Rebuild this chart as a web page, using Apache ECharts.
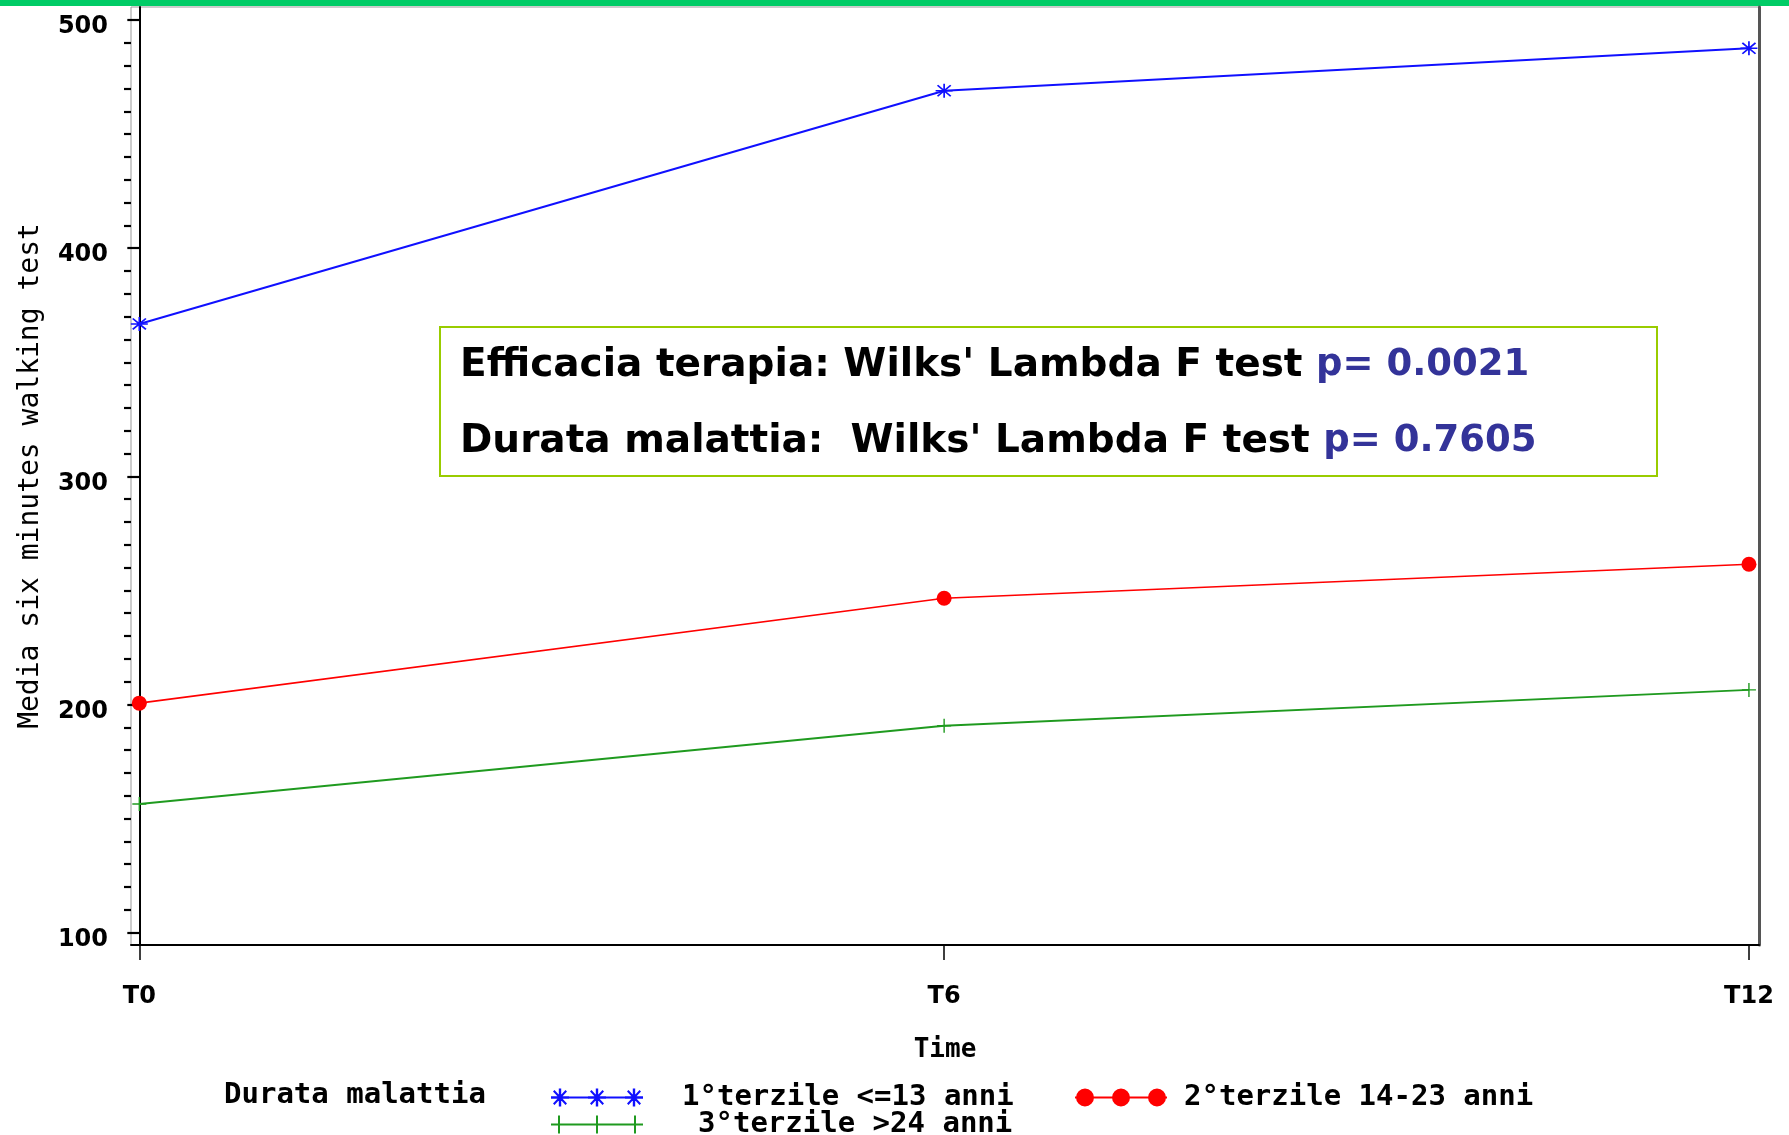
<!DOCTYPE html>
<html>
<head>
<meta charset="utf-8">
<script src="https://cdn.jsdelivr.net/npm/echarts@6/dist/echarts.min.js"></script>
<style>
  html, body { margin: 0; padding: 0; background: #fff; }
  #chart { width: 1789px; height: 1135px; }
</style>
</head>
<body>
<div id="chart"></div>
<script>
// data
const categories = ['T0', 'T6', 'T12'];
const times = [0, 6, 12];
const terzile1 = [366.8, 469.0, 487.6];
const terzile2 = [200.6, 246.6, 261.5];
const terzile3 = [156.4, 190.7, 206.4];
const seriesNames = ['1°terzile <=13 anni', '2°terzile 14-23 anni', '3°terzile >24 anni'];
const yMajor = [100, 200, 300, 400, 500];
const yMinor = [];
for (let v = 110; v < 500; v += 10) { if (v % 100 !== 0) yMinor.push(v); }

const starPath = 'path://M9 0L11 0L11 20L9 20Z M0 9L20 9L20 11L0 11Z M1.5 3L3 1.5L18.5 17L17 18.5Z M17 1.5L18.5 3L3 18.5L1.5 17Z';
const plusPath = 'path://M9 0L11 0L11 20L9 20Z M0 9L20 9L20 11L0 11Z';

// legend icons: a line with three markers (92 x 20)
function star(cx) {
    return 'M' + (cx - 1.2) + ' 1L' + (cx + 1.2) + ' 1L' + (cx + 1.2) + ' 19L' + (cx - 1.2) + ' 19Z' +
        'M' + (cx - 9) + ' 8.8L' + (cx + 9) + ' 8.8L' + (cx + 9) + ' 11.2L' + (cx - 9) + ' 11.2Z' +
        'M' + (cx - 7) + ' 4L' + (cx - 5.5) + ' 2.5L' + (cx + 7) + ' 16L' + (cx + 5.5) + ' 17.5Z' +
        'M' + (cx + 5.5) + ' 2.5L' + (cx + 7) + ' 4L' + (cx - 5.5) + ' 17.5L' + (cx - 7) + ' 16Z';
}
function dot(cx) {
    return 'M' + (cx - 9) + ' 10A9 9 0 1 1 ' + (cx + 9) + ' 10A9 9 0 1 1 ' + (cx - 9) + ' 10Z';
}
function bar(cx) {
    return 'M' + (cx - 1) + ' 1L' + (cx + 1) + ' 1L' + (cx + 1) + ' 19L' + (cx - 1) + ' 19Z';
}
const lineBase = 'M0 9L92 9L92 11L0 11Z';
const iconBlue = 'path://' + lineBase + star(9) + star(46) + star(83);
const iconRed = 'path://' + lineBase + dot(10) + dot(46) + dot(82);
const iconGreen = 'path://' + lineBase + bar(8) + bar(46) + bar(84);

function pairs(vals) { return times.map((t, i) => [t, vals[i]]); }

const tickFont = { color: '#000', fontFamily: 'DejaVu Sans', fontWeight: 'bold', fontSize: 24 };
const legendFont = { color: '#000', fontFamily: 'DejaVu Sans Mono', fontWeight: 'bold', fontSize: 29, lineHeight: 20 };
const boxFont = '"Comic Sans MS", "DejaVu Sans", sans-serif';

function legendAt(name, icon, left, top, pad) {
    return {
        data: [{ name: name, icon: icon }],
        left: left, top: top, padding: 0,
        itemWidth: 92, itemHeight: 20,
        selectedMode: false,
        textStyle: Object.assign({ padding: [0, 0, 0, pad] }, legendFont)
    };
}

const chart = echarts.init(document.getElementById('chart'));
chart.setOption({
    animation: false,
    backgroundColor: '#fff',
    grid: {
        left: 131, right: 30, top: 7, bottom: 190,
        containLabel: false, outerBoundsMode: 'none',
        show: true, borderColor: '#999', borderWidth: 1
    },
    xAxis: {
        type: 'value', min: -0.062, max: 12.075,
        name: 'Time', nameLocation: 'middle', nameGap: 92,
        nameTextStyle: { color: '#000', fontFamily: 'DejaVu Sans Mono', fontWeight: 'bold', fontSize: 26 },
        axisLine: { show: true, lineStyle: { color: '#000', width: 2 } },
        axisTick: { show: true, length: 15, customValues: times, lineStyle: { color: '#000', width: 1.5 } },
        axisLabel: Object.assign({
            customValues: times, margin: 40,
            formatter: (v) => categories[times.indexOf(v)]
        }, tickFont),
        splitLine: { show: false }
    },
    yAxis: [
        {
            type: 'value', position: 'left', min: 94.6, max: 505.7,
            name: 'Media six minutes walking test', nameLocation: 'middle', nameGap: 86,
            nameTextStyle: { color: '#000', fontFamily: 'DejaVu Sans Mono', fontSize: 28 },
            axisLine: { show: true, lineStyle: { color: '#000', width: 2 } },
            axisTick: { show: true, length: 12, customValues: yMajor, lineStyle: { color: '#000', width: 2.2 } },
            axisLabel: Object.assign({ customValues: yMajor, margin: 23, verticalAlign: 'top', lineHeight: 14 }, tickFont),
            splitLine: { show: false }
        },
        {
            type: 'value', position: 'left', min: 94.6, max: 505.7,
            axisLine: { show: false },
            axisTick: { show: true, length: 7, customValues: yMinor, lineStyle: { color: '#000', width: 2.2 } },
            axisLabel: { show: false },
            splitLine: { show: false }
        },
        {
            type: 'value', position: 'right', min: 94.6, max: 505.7,
            axisLine: { show: true, lineStyle: { color: '#555', width: 3 } },
            axisTick: { show: false },
            axisLabel: { show: false },
            splitLine: { show: false }
        }
    ],
    legend: [
        legendAt(seriesNames[0], iconBlue, 551, 1083, 34),
        legendAt(seriesNames[1], iconRed, 1075, 1083, 12),
        legendAt(seriesNames[2], iconGreen, 551, 1110, 50)
    ],
    series: [
        {
            name: seriesNames[0], type: 'line', data: pairs(terzile1),
            symbol: starPath, symbolSize: [17, 14],
            lineStyle: { color: '#1010ff', width: 2 }, itemStyle: { color: '#1010ff' }
        },
        {
            name: seriesNames[1], type: 'line', data: pairs(terzile2),
            symbol: 'circle', symbolSize: 15,
            lineStyle: { color: '#ff0000', width: 1.6 }, itemStyle: { color: '#ff0000' }
        },
        {
            name: seriesNames[2], type: 'line', data: pairs(terzile3),
            symbol: plusPath, symbolSize: 14,
            lineStyle: { color: '#1f9a1f', width: 1.8 }, itemStyle: { color: '#1f9a1f' }
        }
    ],
    graphic: [
        { type: 'rect', left: 0, top: 0, shape: { width: 1789, height: 6 }, style: { fill: '#00cc66' } },
        {
            type: 'text', left: 224, top: 1081,
            style: { text: 'Durata malattia', fill: '#000', font: 'bold 29px "DejaVu Sans Mono"' }
        },
        {
            type: 'rect', left: 439, top: 326, z: 10,
            shape: { width: 1217, height: 149 },
            style: { fill: '#fff', stroke: '#99cc00', lineWidth: 2 }
        },
        {
            type: 'text', left: 460, top: 346, z: 11,
            style: {
                text: '{a|Efficacia terapia: Wilks\' Lambda F test }{b|p= 0.0021}\n{a|Durata malattia:  Wilks\' Lambda F test }{b|p= 0.7605}',
                rich: {
                    a: { fill: '#000', fontFamily: boxFont, fontWeight: 'bold', fontSize: 39, lineHeight: 76 },
                    b: { fill: '#333399', fontFamily: boxFont, fontWeight: 'bold', fontSize: 37, lineHeight: 76 }
                }
            }
        }
    ]
});
</script>
</body>
</html>
